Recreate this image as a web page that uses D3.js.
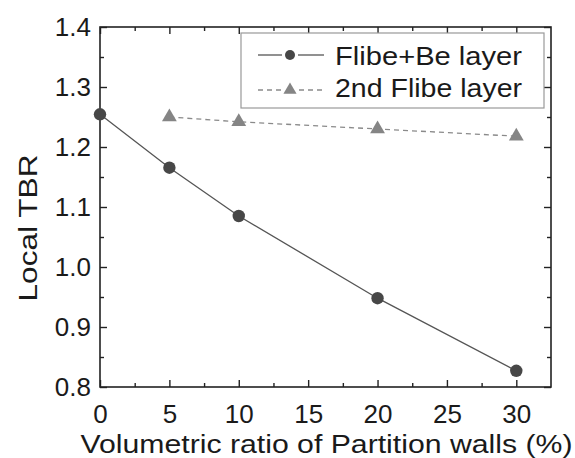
<!DOCTYPE html>
<html>
<head>
<meta charset="utf-8">
<script src="https://cdn.jsdelivr.net/npm/d3@7"></script>
<style>
  html, body { margin: 0; padding: 0; background: #fff; }
  svg { display: block; }
  text { font-family: "Liberation Sans", Arial, sans-serif; fill: #1a1a1a; }
</style>
</head>
<body>
<svg id="chart" width="575" height="458"></svg>
<script>
// ---- data ----
const xFlibeBe = [0, 5, 10, 20, 30];
const yFlibeBe = [1.2545, 1.1655, 1.085, 0.948, 0.827];
const x2nd = [5, 10, 20, 30];
const y2nd = [1.250, 1.242, 1.230, 1.218];
const xMajorTicks = [0, 5, 10, 15, 20, 25, 30];
const xMinorTicks = [2.5, 7.5, 12.5, 17.5, 22.5, 27.5];
const yMajorTicks = [0.8, 0.9, 1.0, 1.1, 1.2, 1.3, 1.4];
const yMinorTicks = [0.85, 0.95, 1.05, 1.15, 1.25, 1.35];
const seriesNames = ["Flibe+Be layer", "2nd Flibe layer"];
const xLabel = "Volumetric ratio of Partition walls (%)";
const yLabel = "Local TBR";

// ---- layout ----
const svg = d3.select("#chart");
const L = 100, R = 551, T = 27, B = 387;
const x = d3.scaleLinear().domain([0, 32.5]).range([L, R]);
const y = d3.scaleLinear().domain([0.8, 1.4]).range([B, T]);
const axisColor = "#222";

function styleAxis(g) {
  g.selectAll("path, line").attr("stroke", axisColor).attr("stroke-width", 1.4);
  g.select(".domain").remove();
}

// Bottom axis with labels
const gB = svg.append("g").attr("transform", `translate(0,${B})`)
  .call(d3.axisBottom(x).tickValues(xMajorTicks).tickSizeInner(-7).tickSizeOuter(0).tickPadding(18).tickFormat(d3.format("d")));
styleAxis(gB);
gB.selectAll("text").attr("font-size", 26).attr("font-family", "Liberation Sans, Arial, sans-serif").attr("fill", "#1a1a1a");
svg.append("g").attr("transform", `translate(0,${B})`)
  .call(d3.axisBottom(x).tickValues(xMinorTicks).tickSizeInner(-4).tickSizeOuter(0).tickFormat(""))
  .call(styleAxis);
// Top
svg.append("g").attr("transform", `translate(0,${T})`)
  .call(d3.axisTop(x).tickValues(xMajorTicks).tickSizeInner(-7).tickSizeOuter(0).tickFormat(""))
  .call(styleAxis);
svg.append("g").attr("transform", `translate(0,${T})`)
  .call(d3.axisTop(x).tickValues(xMinorTicks).tickSizeInner(-4).tickSizeOuter(0).tickFormat(""))
  .call(styleAxis);
// Left axis with labels
const gL = svg.append("g").attr("transform", `translate(${L},0)`)
  .call(d3.axisLeft(y).tickValues(yMajorTicks).tickSizeInner(-7).tickSizeOuter(0).tickPadding(9).tickFormat(d3.format(".1f")));
styleAxis(gL);
gL.selectAll("text").attr("font-size", 26).attr("font-family", "Liberation Sans, Arial, sans-serif").attr("fill", "#1a1a1a");
svg.append("g").attr("transform", `translate(${L},0)`)
  .call(d3.axisLeft(y).tickValues(yMinorTicks).tickSizeInner(-4).tickSizeOuter(0).tickFormat(""))
  .call(styleAxis);
// Right
svg.append("g").attr("transform", `translate(${R},0)`)
  .call(d3.axisRight(y).tickValues(yMajorTicks).tickSizeInner(-7).tickSizeOuter(0).tickFormat(""))
  .call(styleAxis);
svg.append("g").attr("transform", `translate(${R},0)`)
  .call(d3.axisRight(y).tickValues(yMinorTicks).tickSizeInner(-4).tickSizeOuter(0).tickFormat(""))
  .call(styleAxis);

// Frame
svg.append("rect").attr("x", L).attr("y", T).attr("width", R - L).attr("height", B - T)
  .attr("fill", "none").attr("stroke", axisColor).attr("stroke-width", 1.6);

// Axis titles
svg.append("text").attr("x", (80 + 573) / 2).attr("y", 453)
  .attr("text-anchor", "middle").attr("font-size", 25)
  .attr("textLength", 492).attr("lengthAdjust", "spacingAndGlyphs")
  .text(xLabel);
svg.append("text").attr("transform", "translate(37,228) rotate(-90)")
  .attr("text-anchor", "middle").attr("font-size", 26)
  .attr("textLength", 147).attr("lengthAdjust", "spacingAndGlyphs")
  .text(yLabel);

// Series 1
const pts1 = xFlibeBe.map((v, i) => [v, yFlibeBe[i]]);
const pts2 = x2nd.map((v, i) => [v, y2nd[i]]);
const line = d3.line().x(d => x(d[0])).y(d => y(d[1]));
svg.append("path").attr("d", line(pts1)).attr("fill", "none")
  .attr("stroke", "#555").attr("stroke-width", 1.3);
svg.append("path").attr("d", line(pts2)).attr("fill", "none")
  .attr("stroke", "#8a8a8a").attr("stroke-width", 1.3).attr("stroke-dasharray", "5,4");
svg.selectAll("circle.s1").data(pts1).enter().append("circle")
  .attr("cx", d => x(d[0])).attr("cy", d => y(d[1])).attr("r", 6.2).attr("fill", "#474747");
const tri = d3.symbol().type(d3.symbolTriangle).size(95);
svg.selectAll("path.s2").data(pts2).enter().append("path")
  .attr("d", tri).attr("transform", d => `translate(${x(d[0])},${y(d[1])})`).attr("fill", "#858585");

// Legend
const lg = svg.append("g");
lg.append("rect").attr("x", 241).attr("y", 33).attr("width", 303).attr("height", 75)
  .attr("fill", "#fff").attr("stroke", "#999").attr("stroke-width", 1.2);
const rows = [55, 90];
// row 1
lg.append("line").attr("x1", 258).attr("x2", 282).attr("y1", rows[0]).attr("y2", rows[0]).attr("stroke", "#555").attr("stroke-width", 1.3);
lg.append("line").attr("x1", 298).attr("x2", 324).attr("y1", rows[0]).attr("y2", rows[0]).attr("stroke", "#555").attr("stroke-width", 1.3);
lg.append("circle").attr("cx", 290).attr("cy", rows[0]).attr("r", 5).attr("fill", "#474747");
lg.append("text").attr("x", 335).attr("y", 65).attr("font-size", 26)
  .attr("textLength", 187).attr("lengthAdjust", "spacingAndGlyphs").text(seriesNames[0]);
// row 2
lg.append("line").attr("x1", 258).attr("x2", 281).attr("y1", rows[1]).attr("y2", rows[1]).attr("stroke", "#8a8a8a").attr("stroke-width", 1.3).attr("stroke-dasharray", "5,4");
lg.append("line").attr("x1", 299).attr("x2", 324).attr("y1", rows[1]).attr("y2", rows[1]).attr("stroke", "#8a8a8a").attr("stroke-width", 1.3).attr("stroke-dasharray", "5,4");
lg.append("path").attr("d", d3.symbol().type(d3.symbolTriangle).size(75)).attr("transform", `translate(290,${rows[1]})`).attr("fill", "#858585");
lg.append("text").attr("x", 335).attr("y", 97).attr("font-size", 26)
  .attr("textLength", 187).attr("lengthAdjust", "spacingAndGlyphs").text(seriesNames[1]);
</script>
</body>
</html>
